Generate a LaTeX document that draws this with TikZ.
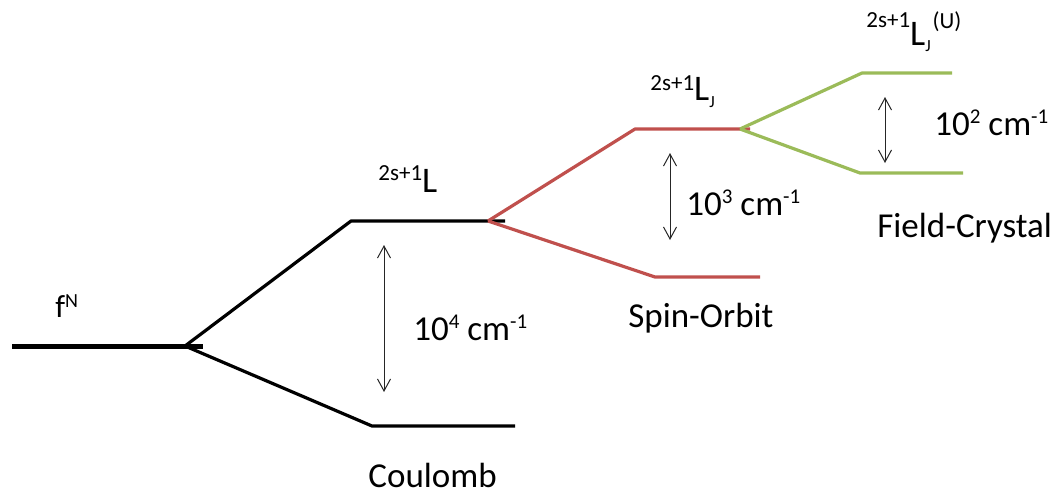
\documentclass[tikz,border=0pt]{standalone}
\usepackage{fontspec}
\setmainfont{Carlito}
\usepackage{xcolor}
\usepackage{tikz}
\usetikzlibrary{arrows.meta}
\definecolor{spinred}{RGB}{192,80,77}
\definecolor{fieldgreen}{RGB}{155,187,89}
\newcommand{\lift}[3]{\raisebox{#1}{\fontsize{#2}{#2}\selectfont #3}}

\begin{document}
\begin{tikzpicture}[x=0.5pt, y=-0.5pt,
    level/.style={line width=1.6pt, line join=round},
    gap/.style={{Straight Barb[length=6pt,width=6.5pt]}-{Straight Barb[length=6pt,width=6.5pt]},
      line width=0.5pt, black!85},
    lbl/.style={anchor=base west, inner sep=0pt, font=\fontsize{17.5}{20}\selectfont},
    term/.style={anchor=base west, inner sep=0pt, font=\fontsize{18}{20}\selectfont}]
  \useasboundingbox (0,0) rectangle (1063,493);
  % level points
  \coordinate (f0) at (12,346);  \coordinate (f1) at (203,346);
  \coordinate (s1) at (185,346);
  \coordinate (L0) at (351,221);  \coordinate (L1) at (505,221);
  \coordinate (C0) at (372,426);  \coordinate (C1) at (515,426);
  \coordinate (s2) at (488,221);
  \coordinate (J0) at (635,129);  \coordinate (J1) at (750,129);
  \coordinate (O0) at (655,277);  \coordinate (O1) at (760,277);
  \coordinate (s3) at (740,129);
  \coordinate (U0) at (862,73);   \coordinate (U1) at (952,73);
  \coordinate (V0) at (860,173);  \coordinate (V1) at (963,173);
  % Coulomb
  \draw[level, line width=2.5pt] (f0) -- (f1);
  \draw[level] (s1) -- (L0) -- (L1);
  \draw[level] (s1) -- (C0) -- (C1);
  % spin-orbit
  \draw[level, spinred] (s2) -- (J0) -- (J1);
  \draw[level, spinred] (s2) -- (O0) -- (O1);
  % crystal field
  \draw[level, fieldgreen] (s3) -- (U0) -- (U1);
  \draw[level, fieldgreen] (s3) -- (V0) -- (V1);
  % gaps
  \coordinate (g1a) at (384,245);  \coordinate (g1b) at (384,392);
  \coordinate (g2a) at (670,153);  \coordinate (g2b) at (670,240);
  \coordinate (g3a) at (885,97);   \coordinate (g3b) at (885,163);
  \draw[gap] (g1a) -- (g1b);
  \draw[gap] (g2a) -- (g2b);
  \draw[gap] (g3a) -- (g3b);
  \node[lbl] (e1) at (413,340) {10\lift{6pt}{10.5}{4} cm\lift{6pt}{10.5}{-1}};
  \node[lbl] (e2) at (686,215) {10\lift{6pt}{10.5}{3} cm\lift{6pt}{10.5}{-1}};
  \node[lbl] (e3) at (934,135) {10\lift{6pt}{10.5}{2} cm\lift{6pt}{10.5}{-1}};
  % terms
  \node[anchor=base west, inner sep=0pt, font=\fontsize{16}{18}\selectfont] (fN) at (55,317)
    {f\lift{5pt}{10}{N}};
  \node[term] (tL) at (378,192) {\lift{6pt}{11.5}{2s+1}L};
  \node[term] (tLJ) at (650,100) {\lift{5pt}{11.5}{2s+1}L\lift{-3.5pt}{8.5}{J}};
  \node[term] (tLJU) at (866,45)
    {\lift{9pt}{11.5}{2s+1}L\lift{-3pt}{8.5}{J}\hspace{1pt}\lift{8.5pt}{11.5}{(U)}};
  % names
  \node[lbl] (coul) at (368,487) {Coulomb};
  \node[lbl] (spin) at (628,327) {Spin-Orbit};
  \node[lbl] (field) at (877,237) {Field-Crystal};
\end{tikzpicture}
\end{document}
